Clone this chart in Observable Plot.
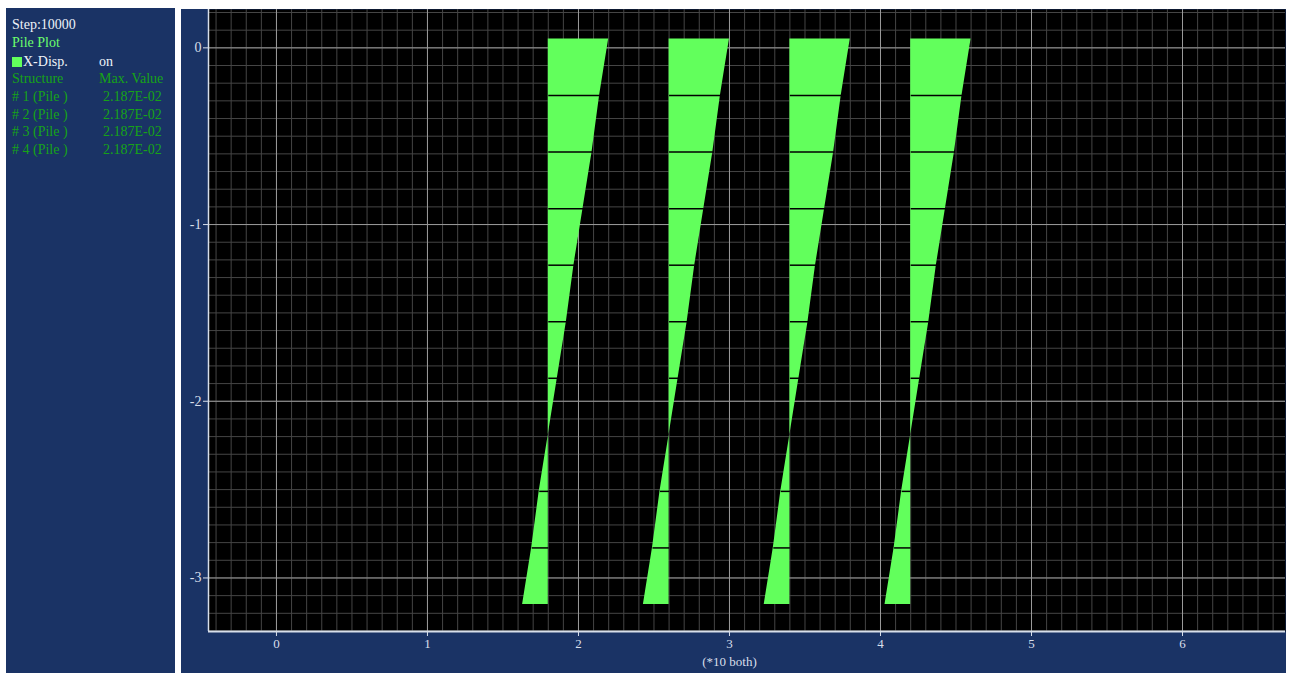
<!DOCTYPE html>
<html>
<head>
<meta charset="utf-8">
<script src="https://cdn.jsdelivr.net/npm/d3@7"></script>
<script src="https://cdn.jsdelivr.net/npm/@observablehq/plot@0.6"></script>
<style>
  body { margin: 0; background: #ffffff; width: 1290px; height: 673px; overflow: hidden; position: relative; }
  #side { position: absolute; left: 6px; top: 8px; width: 169px; height: 665px; background: #1a3365;
          font-family: "Liberation Serif", "DejaVu Serif", serif; font-size: 14px; }
  #side div.row { position: absolute; left: 6px; height: 17px; line-height: 17px; white-space: pre; }
  #side span.c2 { position: absolute; left: 87px; }
  #chart { position: absolute; left: 181px; top: 9px; }
  .sq { display: inline-block; width: 10px; height: 10px; background: #62ff5c; margin-right: 1px; vertical-align: -1px; }
</style>
</head>
<body>
<div id="side"></div>
<div id="chart"></div>
<script>
// ---- data ----
const stepLabel = "Step:10000";
const plotTitle = "Pile Plot";
const seriesName = "X-Disp.";
const seriesState = "on";
const headerCols = ["Structure", "Max. Value"];
const pileNames = ["# 1 (Pile )", "# 2 (Pile )", "# 3 (Pile )", "# 4 (Pile )"];
const pileMax = ["2.187E-02", "2.187E-02", "2.187E-02", "2.187E-02"];
const pileBase = [1.8, 2.6, 3.4, 4.2];
const nodeDepth = [0.05, -0.27, -0.59, -0.91, -1.23, -1.55, -1.87, -2.19, -2.51, -2.83, -3.15];
const nodeDisp  = [0.40, 0.34, 0.29, 0.23, 0.17, 0.12, 0.06, 0.00, -0.06, -0.11, -0.17];
const xTicks = [0, 1, 2, 3, 4, 5, 6];
const yTicks = [0, -1, -2, -3];
const axisNote = "(*10 both)";

// ---- side panel ----
const side = document.getElementById("side");
function addRow(top, html) {
  const d = document.createElement("div");
  d.className = "row"; d.style.top = top + "px"; d.innerHTML = html; side.appendChild(d);
}
addRow(8, `<span style="color:#eef2f8">${stepLabel}</span>`);
addRow(26, `<span style="color:#6cff6c">${plotTitle}</span>`);
addRow(45, `<span class="sq"></span><span style="color:#eef2f8">${seriesName}</span><span class="c2" style="color:#eef2f8">${seriesState}</span>`);
addRow(62, `<span style="color:#17a317">${headerCols[0]}</span><span class="c2" style="color:#17a317">${headerCols[1]}</span>`);
pileNames.forEach((n, i) => {
  addRow(80 + i * 17.5, `<span style="color:#17a317">${n}</span><span class="c2" style="color:#17a317;left:91px">${pileMax[i]}</span>`);
});

// ---- chart ----
const rows = [];
pileBase.forEach((b, p) => {
  nodeDepth.forEach((d, i) => rows.push({pile: p, base: b, depth: d, x2: b + nodeDisp[i], i}));
});
const xDom = [-0.45, 6.682];
const yDom = [-3.303, 0.217];
const minorX = d3.range(-4, 67).map(i => i / 10);
const minorY = d3.range(-33, 3).map(i => i / 10);

const chart = Plot.plot({
  width: 1105, height: 664,
  marginLeft: 27, marginRight: 1, marginTop: 0, marginBottom: 42,
  x: {domain: xDom, label: null},
  y: {domain: yDom, label: null},
  style: {background: "#1a3365", color: "#d8dfea", fontFamily: "Liberation Serif", fontSize: "14px"},
  marks: [
    Plot.frame({fill: "black", stroke: null}),
    Plot.gridX(minorX, {stroke: "#454545", strokeOpacity: 1}),
    Plot.gridY(minorY, {stroke: "#454545", strokeOpacity: 1}),
    Plot.gridX(xTicks, {stroke: "#9a9a9a", strokeOpacity: 1}),
    Plot.gridY(yTicks, {stroke: "#9a9a9a", strokeOpacity: 1}),
    Plot.areaX(rows, {y: "depth", x1: "base", x2: "x2", z: "pile", fill: "#62ff5c", curve: "linear"}),
    Plot.link(rows.filter(r => r.i > 0 && r.i < nodeDepth.length - 1),
      {x1: "base", x2: "x2", y1: "depth", y2: "depth", stroke: "black", strokeWidth: 1.5}),
    Plot.ruleY([yDom[0]], {stroke: "#d8dfea", strokeWidth: 2}),
    Plot.ruleX([xDom[0]], {stroke: "#d8dfea", strokeWidth: 1.5}),
    Plot.axisY(yTicks, {tickFormat: d => String(d), tickSize: 5, tickPadding: 2, label: null}),
    Plot.axisX(xTicks, {tickFormat: d => String(d), tickSize: 5, tickPadding: 2, fontSize: 13, label: null}),
    Plot.text([axisNote], {x: [3], text: d => d, frameAnchor: "bottom", dy: 34, fontSize: 13, fill: "#d8dfea"})
  ]
});
document.getElementById("chart").appendChild(chart);
</script>
</body>
</html>
